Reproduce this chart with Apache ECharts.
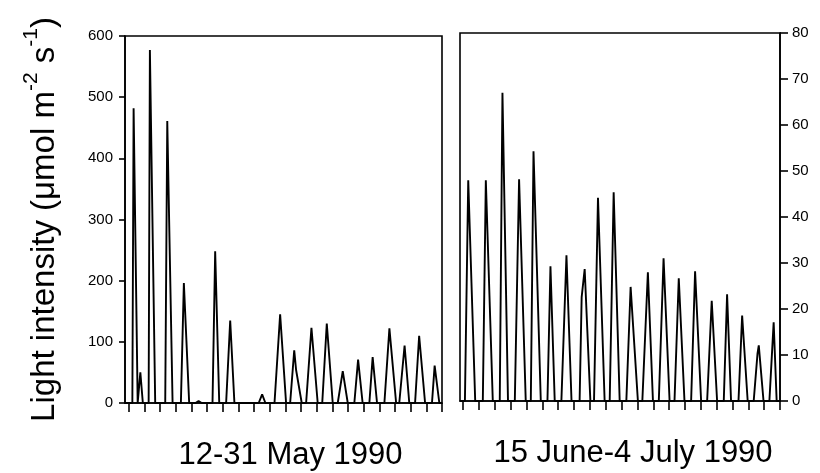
<!DOCTYPE html>
<html>
<head>
<meta charset="utf-8">
<script src="https://cdn.jsdelivr.net/npm/echarts@6/dist/echarts.min.js"></script>
<style>
  html, body { margin: 0; padding: 0; background: #fff; }
  #chart { width: 820px; height: 473px; }
</style>
</head>
<body>
<div id="chart"></div>
<script>
// day boundaries (tick marks) for both periods
const dayTicks = [0, 1, 2, 3, 4, 5, 6, 7, 8, 9, 10, 11, 12, 13, 14, 15, 16, 17, 18, 19, 20];
const mayTicks = [0, 100, 200, 300, 400, 500, 600];
const juneTicks = [0, 10, 20, 30, 40, 50, 60, 70, 80];

// 12-31 May 1990: daily peaks (time in days from 12 May 00:00)
const mayPeakDay = [0.30, 0.73, 1.34, 2.45, 3.51, 4.45, 5.51, 6.47, 8.51, 9.66, 10.56, 11.66, 12.64, 13.66, 14.64, 15.57, 16.64, 17.61, 18.54, 19.53];
const mayPeak = [482, 50, 577, 461, 196, 3, 248, 135, 14, 145, 86, 123, 130, 52, 71, 75, 122, 94, 110, 61];
// light on / off, days before and after the peak
const mayRise = [0.08, 0.16, 0.08, 0.13, 0.19, 0.2, 0.17, 0.26, 0.22, 0.36, 0.26, 0.34, 0.29, 0.32, 0.24, 0.21, 0.32, 0.34, 0.26, 0.17];
const mayFall = [0.26, 0.16, 0.34, 0.34, 0.34, 0.2, 0.26, 0.27, 0.21, 0.38, 0.48, 0.40, 0.38, 0.32, 0.29, 0.28, 0.43, 0.30, 0.38, 0.30];
const mayShoulderDay = [10.68];
const mayShoulder = [54];

// 15 June-4 July 1990
const junePeakDay = [0.32, 1.43, 2.48, 3.53, 4.44, 5.51, 6.52, 7.67, 8.51, 9.50, 10.57, 11.66, 12.65, 13.61, 14.64, 15.69, 16.66, 17.61, 18.66, 19.60];
const junePeak = [48, 48, 67, 48.2, 54.3, 29.3, 31.7, 28.7, 44.2, 45.4, 24.8, 28, 31, 26.7, 28.2, 21.8, 23.2, 18.6, 12.1, 17.1];
const juneRise = [0.21, 0.19, 0.17, 0.27, 0.17, 0.19, 0.32, 0.32, 0.25, 0.25, 0.27, 0.35, 0.30, 0.27, 0.25, 0.29, 0.21, 0.23, 0.32, 0.27];
const juneFall = [0.44, 0.44, 0.35, 0.42, 0.46, 0.27, 0.32, 0.36, 0.42, 0.38, 0.46, 0.32, 0.38, 0.36, 0.38, 0.34, 0.25, 0.35, 0.30, 0.19];
const juneShoulderDay = [7.48, 18.58];
const juneShoulder = [22.6, 10.3];

const buildLine = (peakDay, peak, rise, fall, shDay, sh, start, end) => {
  const pts = [[start, 0], [end, 0]];
  for (let i = 0; i < peakDay.length; i++) {
    pts.push([peakDay[i] - rise[i], 0]);
    pts.push([peakDay[i], peak[i]]);
    pts.push([peakDay[i] + fall[i], 0]);
  }
  for (let i = 0; i < shDay.length; i++) pts.push([shDay[i], sh[i]]);
  return pts.sort((a, b) => a[0] - b[0]);
};

const FONT = '"Liberation Sans", Arial, Helvetica, sans-serif';
const black = '#000';

const xAxisBase = (gridIndex, min, name, pad) => ({
  type: 'value',
  gridIndex,
  min,
  max: 20,
  name,
  nameLocation: 'middle',
  nameGap: 37,
  nameTextStyle: { fontFamily: FONT, fontSize: 31, color: black, padding: pad },
  axisLine: { onZero: false, lineStyle: { color: black, width: 1.6 } },
  axisTick: { show: true, customValues: dayTicks, length: 9, lineStyle: { color: black, width: 1.6 } },
  axisLabel: { show: false },
  splitLine: { show: false },
});

const yAxisBase = (gridIndex, max, interval, position, tickLen) => ({
  type: 'value',
  gridIndex,
  position,
  min: 0,
  max,
  interval,
  axisLine: { show: true, onZero: false, lineStyle: { color: black, width: 1.6 } },
  axisTick: { show: true, length: tickLen, lineStyle: { color: black, width: 1.6 } },
  axisLabel: { fontFamily: FONT, fontSize: 15, color: black, margin: 12 },
  splitLine: { show: false },
});

const chart = echarts.init(document.getElementById('chart'), null, { renderer: 'canvas' });

const leftY = yAxisBase(0, mayTicks[mayTicks.length - 1], mayTicks[1] - mayTicks[0], 'left', 6);
leftY.name = '{a|Light intensity (μmol m}{s|-2}{a| s}{s|-1}{a|)}';
leftY.nameLocation = 'middle';
leftY.nameGap = 64;
leftY.nameRotate = 90;
leftY.nameTextStyle = {
  fontFamily: FONT,
  color: black,
  rich: {
    a: { fontFamily: FONT, fontSize: 33, color: black, lineHeight: 40, verticalAlign: 'bottom' },
    s: { fontFamily: FONT, fontSize: 21, color: black, lineHeight: 40, verticalAlign: 'top' },
  },
};

const rightY = yAxisBase(1, juneTicks[juneTicks.length - 1], juneTicks[1] - juneTicks[0], 'right', 8);

const lineStyle = { color: black, width: 1.9 };

chart.setOption({
  backgroundColor: '#fff',
  animation: false,
  grid: [
    { left: 125, right: 378, top: 36, bottom: 70, outerBoundsMode: 'none', containLabel: false,
      show: true, borderColor: black, borderWidth: 1.6 },
    { left: 460, right: 40, top: 33, bottom: 72, outerBoundsMode: 'none', containLabel: false,
      show: true, borderColor: black, borderWidth: 1.6 },
  ],
  xAxis: [
    xAxisBase(0, -0.25, '12-31 May 1990', [0, 0, 0, 14]),
    xAxisBase(1, -0.2, '15 June-4 July 1990', [0, 0, 0, 26]),
  ],
  yAxis: [leftY, rightY],
  series: [
    {
      type: 'line',
      xAxisIndex: 0,
      yAxisIndex: 0,
      data: buildLine(mayPeakDay, mayPeak, mayRise, mayFall, mayShoulderDay, mayShoulder, -0.25, 20),
      symbol: 'none',
      lineStyle,
    },
    {
      type: 'line',
      xAxisIndex: 1,
      yAxisIndex: 1,
      data: buildLine(junePeakDay, junePeak, juneRise, juneFall, juneShoulderDay, juneShoulder, -0.2, 20),
      symbol: 'none',
      lineStyle,
    },
  ],
});
</script>
</body>
</html>
